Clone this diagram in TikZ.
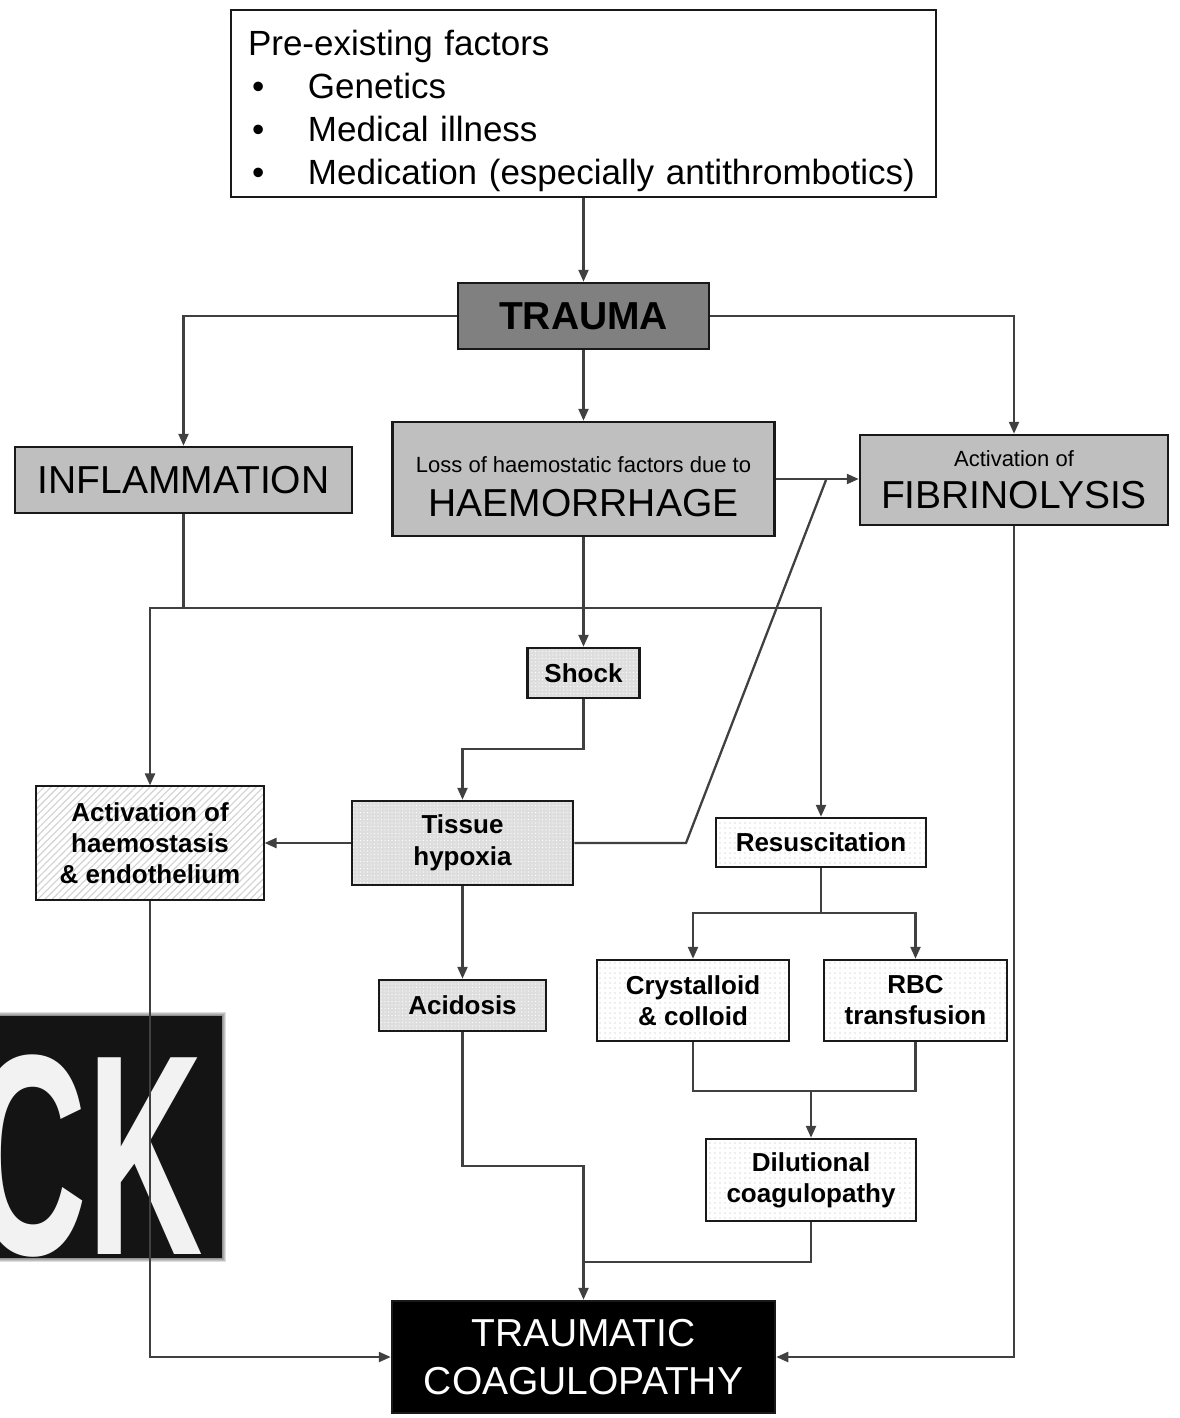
\documentclass[tikz,border=0pt]{standalone}
\usepackage{fontspec}
\setmainfont{Liberation Sans}
\usepackage{graphicx}
\usetikzlibrary{arrows.meta,patterns.meta}

\begin{document}
\begin{tikzpicture}[x=1pt,y=-1pt,
  >={Triangle[length=12pt,width=10pt]},
  conn/.style={line width=2.3pt,draw=black!75},
  box/.style={draw=black!90,line width=2.5pt,inner sep=0pt,align=center},
  bigbox/.style={box,fill=black!25,font=\fontsize{39}{45}\selectfont},
  dotbox/.style={box,preaction={fill=black!13},font=\bfseries\fontsize{26}{32}\selectfont,
    pattern={Dots[radius=0.7pt,distance=3.5pt]},pattern color=white},
  hatchbox/.style={box,preaction={fill=white},font=\bfseries\fontsize{26}{31}\selectfont,
    pattern={Lines[angle=45,distance=5pt,line width=1.1pt]},pattern color=black!18},
  resbox/.style={box,preaction={fill=white},font=\bfseries\fontsize{26}{31}\selectfont,
    pattern={Dots[radius=0.7pt,distance=5pt]},pattern color=black!28}]
\useasboundingbox (0,0) rectangle (1179,1418);

% the picture behind the lower left corner
\foreach \d in {1,...,7}
  \fill[black,opacity=0.13] (-20,1019-\d) rectangle (219+\d,1255+\d);
\begin{scope}
  \clip (0,1016) rectangle (222,1258);
  \fill[black!92] (-20,1016) rectangle (222,1258);
  \node[anchor=base east,text=black!5,inner sep=0pt] (ck) at (203,1254)
    {\scalebox{0.56}[1]{\fontsize{286}{286}\selectfont\bfseries CK}};
\end{scope}

% boxes
\node[box,align=left,text width=671pt,inner xsep=17pt,minimum height=187pt,
  font=\fontsize{35}{43}\selectfont] (pre) at (583.5,103.5)
  {\rule{0pt}{40pt}Pre-existing factors\\
   \makebox[60pt][l]{\hspace{4pt}\textbullet}Genetics\\
   \makebox[60pt][l]{\hspace{4pt}\textbullet}Medical illness\\
   \makebox[60pt][l]{\hspace{4pt}\textbullet}Medication (especially antithrombotics)};
\node[box,fill=black!50,minimum width=251pt,minimum height=66pt,
  font=\bfseries\fontsize{39}{45}\selectfont] (trauma) at (583.5,316) {TRAUMA};
\node[bigbox,minimum width=337pt,minimum height=66pt] (inflam) at (183.5,480) {INFLAMMATION};
\node[bigbox,minimum width=382pt,minimum height=114pt] (haem) at (583.5,479)
  {{\fontsize{22}{26}\selectfont\rule{0pt}{32pt}Loss of haemostatic factors due to}\\[-1pt]HAEMORRHAGE};
\node[bigbox,minimum width=308pt,minimum height=90pt] (fibrin) at (1014,480)
  {{\fontsize{22}{26}\selectfont Activation of}\\[-3pt]FIBRINOLYSIS};
\node[dotbox,minimum width=112pt,minimum height=50pt] (shock) at (583.5,673) {Shock};
\node[dotbox,minimum width=221pt,minimum height=84pt] (hypoxia) at (462.5,843) {Tissue\\hypoxia};
\node[hatchbox,minimum width=228pt,minimum height=114pt] (activ) at (150,843)
  {Activation of\\haemostasis\\\& endothelium};
\node[dotbox,minimum width=167pt,minimum height=51pt] (acid) at (462.5,1005.5) {Acidosis};
\node[resbox,minimum width=210pt,minimum height=49pt] (resus) at (821,842.5) {Resuscitation};
\node[resbox,minimum width=192pt,minimum height=81pt] (cryst) at (693,1000.5) {Crystalloid\\\& colloid};
\node[resbox,minimum width=183pt,minimum height=81pt] (rbc) at (915.5,1000.5) {RBC\\transfusion};
\node[resbox,minimum width=210pt,minimum height=82pt] (dilut) at (811,1180) {Dilutional\\coagulopathy};
\node[box,fill=black,text=white,minimum width=383pt,minimum height=112pt,
  font=\fontsize{39}{48}\selectfont] (tc) at (583.5,1357) {TRAUMATIC\\COAGULOPATHY};

% connectors
\coordinate (kink) at (686,843);
\coordinate (meet) at (826,480);
\coordinate (bus) at (183.5,608);
\coordinate (split) at (821,913);
\coordinate (merge) at (811,1090);
\coordinate (join) at (583.5,1262);

\draw[conn,->] (pre.south) -- (trauma.north);
\draw[conn,->] (trauma.west) -| (inflam.north);
\draw[conn,->] (trauma.south) -- (haem.north);
\draw[conn,->] (trauma.east) -| (fibrin.north);
\draw[conn,->] (haem.east) -- (haem.east -| fibrin.west);
\draw[conn] (hypoxia.east) -- (kink) -- (meet);
\draw[conn] (inflam.south) -- (bus);
\draw[conn,->] (bus) -| (activ.north);
\draw[conn,->] (bus) -| (resus.north);
\draw[conn,->] (haem.south) -- (shock.north);
\draw[conn,->] (shock.south) -- ++(0,50) -| (hypoxia.north);
\draw[conn,->] (hypoxia.west) -- (activ.east);
\draw[conn,->] (hypoxia.south) -- (acid.north);
\draw[conn] (resus.south) -- (split);
\draw[conn,->] (split) -| (cryst.north);
\draw[conn,->] (split) -| (rbc.north);
\draw[conn] (cryst.south) -- ++(0,49) -| (rbc.south);
\draw[conn,->] (merge) -- (dilut.north);
\draw[conn] (acid.south) -- ++(0,134) -| (join);
\draw[conn] (dilut.south) |- (join);
\draw[conn,->] (join) -- (tc.north);
\draw[conn,->] (activ.south) |- (tc.west);
\draw[conn,->] (fibrin.south) |- (tc.east);
\end{tikzpicture}
\end{document}
